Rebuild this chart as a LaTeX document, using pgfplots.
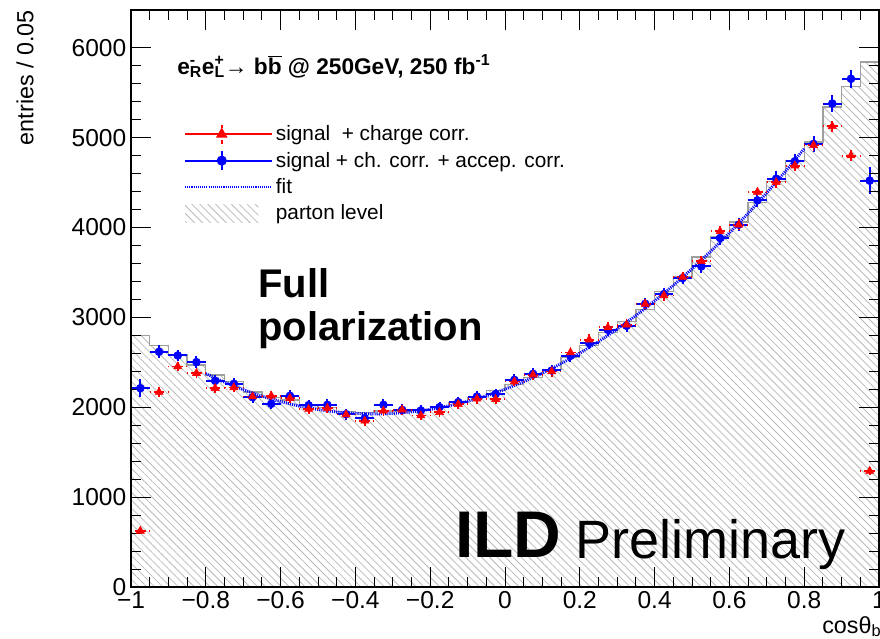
\documentclass[border=0pt]{standalone}
\usepackage{fontspec}
\setmainfont{Liberation Sans}
\usepackage{pgfplots}
\pgfplotsset{compat=1.18}
\usetikzlibrary{patterns.meta}
\pgfplotsset{
  redleg/.style={legend image code/.code={
    \path (0pt,0pt) -- (65pt,0pt);
    \draw[##1, mark=none] (0pt,0pt) -- (55pt,0pt);
    \draw[##1, mark=none, dashed] (27.5pt,-7pt) -- (27.5pt,7pt);
    \draw[##1] plot coordinates {(27.5pt,0pt)};}},
  blueleg/.style={legend image code/.code={
    \path (0pt,0pt) -- (65pt,0pt);
    \draw[##1, mark=none] (0pt,0pt) -- (55pt,0pt);
    \draw[##1, mark=none] (27.5pt,-7pt) -- (27.5pt,7pt);
    \draw[##1] plot coordinates {(27.5pt,0pt)};}},
  fitleg/.style={legend image code/.code={
    \path (0pt,0pt) -- (65pt,0pt);
    \draw[##1] (0pt,0pt) -- (55pt,0pt);}},
  histleg/.style={legend image code/.code={
    \path (0pt,0pt) -- (65pt,0pt);
    \path[##1] (0pt,-6.5pt) rectangle (55pt,6.5pt);}},
  hatch/.style={pattern={Lines[angle=-45,distance=4.2pt,line width=0.6pt]}, pattern color=gray!55},
}

\begin{document}
\begin{tikzpicture}
\begin{axis}[
  at={(0pt,0pt)}, anchor=south west,
  scale only axis, width=561pt, height=432.75pt,
  xmin=-1, xmax=1, ymin=0, ymax=6420,
  axis line style={line width=0.9pt},
  axis on top,
  tick align=inside,
  xtick={-1,-0.8,-0.6,-0.4,-0.2,0,0.2,0.4,0.6,0.8,1},
  xticklabels={−1,−0.8,−0.6,−0.4,−0.2,0,0.2,0.4,0.6,0.8,1},
  ytick={0,1000,2000,3000,4000,5000,6000},
  yticklabels={0,1000,2000,3000,4000,5000,6000},
  minor x tick num=3, minor y tick num=4,
  major tick length=15pt, minor tick length=7.5pt,
  every tick/.style={line width=0.75pt, black},
  ticklabel style={font=\fontsize{18.4}{22}\selectfont},
  legend style={draw=none, fill=none, at={(rel axis cs:0.07,0.8046)}, anchor=north west,
    font=\fontsize{15.6}{18}\selectfont, row sep=3pt, inner sep=0pt, cells={anchor=west}},
]
\addlegendimage{red, line width=1.5pt, mark=triangle*, mark size=3.5pt, redleg}
\addlegendentry{signal~ + charge corr.}
\addlegendimage{blue, line width=1.5pt, mark=*, mark size=3pt, blueleg}
\addlegendentry{signal + ch. corr. + accep. corr.}
\addlegendimage{blue, line width=2.2pt, dash pattern=on 0.8pt off 0.8pt, fitleg}
\addlegendentry{fit}
\addlegendimage{draw=none, hatch, histleg}
\addlegendentry{parton level}

% parton level histogram (left bin edges)
\addplot[const plot, draw=gray!75, line width=1pt, hatch, forget plot]
table {
x y
-1.00 2795
-0.95 2690
-0.90 2580
-0.85 2470
-0.80 2360
-0.75 2290
-0.70 2170
-0.65 2110
-0.60 2080
-0.55 2030
-0.50 2000
-0.45 1950
-0.40 1940
-0.35 1960
-0.30 1960
-0.25 1970
-0.20 2010
-0.15 2050
-0.10 2110
-0.05 2190
0.00 2250
0.05 2330
0.10 2420
0.15 2550
0.20 2690
0.25 2829
0.30 2955
0.35 3090
0.40 3288
0.45 3456
0.50 3670
0.55 3900
0.60 4060
0.65 4280
0.70 4510
0.75 4740
0.80 4950
0.85 5340
0.90 5570
0.95 5840
1.00 5840
} \closedcycle;

% fit
\addplot[blue, line width=2.2pt, dash pattern=on 0.8pt off 0.8pt, forget plot] coordinates {
(-0.80,2373) (-0.75,2279) (-0.70,2196) (-0.65,2124) (-0.60,2063) (-0.55,2013)
(-0.50,1975) (-0.45,1947) (-0.40,1931) (-0.35,1925) (-0.30,1931) (-0.25,1948)
(-0.20,1976) (-0.15,2016) (-0.10,2066) (-0.05,2127) (0.00,2200) (0.05,2284)
(0.10,2379) (0.15,2485) (0.20,2602) (0.25,2730) (0.30,2870) (0.35,3020)
(0.40,3182) (0.45,3355) (0.50,3539) (0.55,3734) (0.60,3940) (0.65,4157)
(0.70,4386) (0.75,4625) (0.80,4876)
};

% signal + ch. corr. + accep. corr.
\addplot[blue, only marks, mark=*, mark size=3pt, forget plot,
  error bars/.cd, x dir=both, x fixed=0.025, y dir=both, y explicit, error mark=none,
  error bar style={line width=1.5pt, blue}]
table[x=x, y=y, y error=e] {
x y e
-0.975 2212 100
-0.925 2617 70
-0.875 2576 65
-0.825 2502 65
-0.775 2294 60
-0.725 2261 60
-0.675 2112 60
-0.625 2038 60
-0.575 2127 60
-0.525 2023 60
-0.475 2027 60
-0.425 1923 60
-0.375 1878 60
-0.325 2027 60
-0.275 1971 60
-0.225 1964 60
-0.175 2001 60
-0.125 2057 60
-0.075 2119 60
-0.025 2146 60
0.025 2305 60
0.075 2372 60
0.125 2409 60
0.175 2572 65
0.225 2714 65
0.275 2862 65
0.325 2906 65
0.375 3151 65
0.425 3259 70
0.475 3437 70
0.525 3567 70
0.575 3883 75
0.625 4031 75
0.675 4302 75
0.725 4543 80
0.775 4737 80
0.825 4930 85
0.875 5379 90
0.925 5654 100
0.975 4521 150
};

% signal + charge corr.
\addplot[red, only marks, mark=triangle*, mark size=3.5pt, forget plot,
  error bars/.cd, x dir=both, x fixed=0.025, y dir=both, y explicit, error mark=none,
  error bar style={line width=1.4pt, red, dash pattern=on 4pt off 2.5pt}]
table[x=x, y=y, y error=e] {
x y e
-0.975 624 30
-0.925 2168 55
-0.875 2453 55
-0.825 2379 55
-0.775 2212 55
-0.725 2220 55
-0.675 2119 55
-0.625 2127 55
-0.575 2101 55
-0.525 1979 55
-0.475 1990 55
-0.425 1919 55
-0.375 1849 55
-0.325 1960 55
-0.275 1971 55
-0.225 1908 55
-0.175 1945 55
-0.125 2034 55
-0.075 2094 55
-0.025 2090 55
0.025 2286 55
0.075 2361 55
0.125 2398 60
0.175 2609 60
0.225 2751 60
0.275 2888 60
0.325 2918 60
0.375 3148 60
0.425 3244 60
0.475 3449 60
0.525 3623 65
0.575 3957 65
0.625 4031 65
0.675 4395 70
0.725 4502 70
0.775 4688 70
0.825 4915 75
0.875 5126 75
0.925 4800 75
0.975 1290 40
};
\end{axis}

% title
\node[anchor=base west, inner sep=0pt, font=\bfseries\fontsize{17}{20}\selectfont] at (34.5pt,384.5pt)
  {e\makebox[0pt][l]{\textsuperscript{-}}\textsubscript{R}e\makebox[0pt][l]{\textsuperscript{+}}\textsubscript{L}{\mdseries →} b$\overline{\mbox{b}}$ @ 250GeV, 250 fb\textsuperscript{-1}};
% Full polarization
\node[anchor=base west, inner sep=0pt, font=\bfseries\fontsize{30}{34}\selectfont] at (95.25pt,216.75pt) {Full};
\node[anchor=base west, inner sep=0pt, font=\bfseries\fontsize{30}{34}\selectfont] at (95.25pt,184.5pt) {polarization};
% ILD Preliminary
\node[anchor=base west, inner sep=0pt, font=\bfseries\fontsize{49.5}{55}\selectfont] at (243pt,22.5pt) {ILD};
\node[anchor=base west, inner sep=0pt, font=\fontsize{40.5}{45}\selectfont] at (333pt,21.75pt) {Preliminary};
% axis titles
\node[anchor=base west, inner sep=0pt, font=\fontsize{17.5}{20}\selectfont] at (518.25pt,-34.5pt) {cosθ\textsubscript{b}};
\node[rotate=90, anchor=east, inner sep=0pt, font=\fontsize{17.5}{20}\selectfont] at (-79.5pt,432.75pt) {entries / 0.05};

\pgfresetboundingbox
\path[use as bounding box] (-98.25pt,-38.25pt) rectangle (561.75pt,440.25pt);
\end{tikzpicture}
\end{document}
